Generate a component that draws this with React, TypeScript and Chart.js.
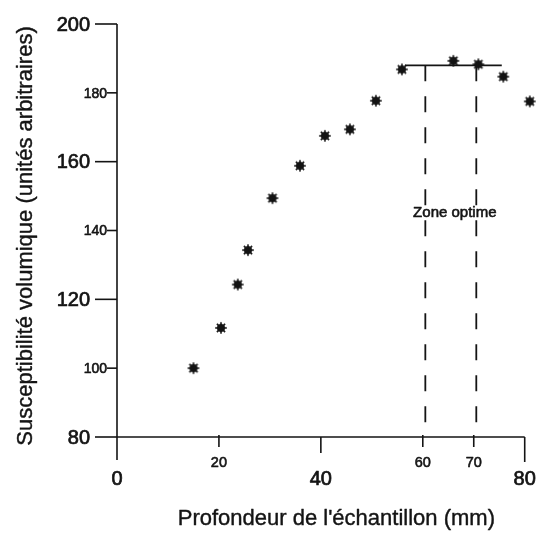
import { useEffect, useRef } from "react";
import { Chart, registerables } from "chart.js";

Chart.register(...registerables);

// ---- data ----
const depthMm = [15, 20.4, 23.7, 25.7, 30.5, 35.9, 40.8, 45.7, 50.8, 55.9, 66.0, 70.9, 75.8, 81.0];
const susceptibility = [100, 111.7, 124.3, 134.3, 149.4, 158.8, 167.5, 169.4, 177.7, 186.8, 189.3, 188.3, 184.7, 177.5];

const xTickValues = [0, 20, 40, 60, 70, 80];
const xMajorTicks = [0, 40, 80];
const yTickValues = [80, 100, 120, 140, 160, 180, 200];
const yMajorTicks = [80, 120, 160, 200];

const zoneBounds = [60.5, 70.5];
const plateauX = [56.5, 75.5];
const plateauY = 188;
const zoneLabelY = 144;

const zoneLabel = "Zone optime";
const xTitle = "Profondeur de l'échantillon (mm)";
const yTitle = "Susceptibilité volumique (unités arbitraires)";

const INK = "#141414";
const FONT = "'Liberation Sans', Arial, Helvetica, sans-serif";

function makeAsterisk(): HTMLCanvasElement {
  const c = document.createElement("canvas");
  c.width = 14;
  c.height = 14;
  const g = c.getContext("2d")!;
  g.translate(7, 7);
  g.fillStyle = INK;
  g.strokeStyle = INK;
  g.beginPath();
  g.arc(0, 0, 4, 0, Math.PI * 2);
  g.fill();
  g.lineWidth = 1.6;
  for (let i = 0; i < 8; i++) {
    const a = (i * Math.PI) / 4;
    g.beginPath();
    g.moveTo(0, 0);
    g.lineTo(Math.cos(a) * 5.8, Math.sin(a) * 5.8);
    g.stroke();
  }
  return c;
}

function inkText(ctx: CanvasRenderingContext2D, text: string, x: number, y: number, weight: number) {
  ctx.lineWidth = weight;
  ctx.strokeText(text, x, y);
  ctx.fillText(text, x, y);
}

const axesPlugin = {
  id: "sketchAxes",
  beforeDatasetsDraw(chart: any) {
    const { ctx } = chart;
    const x = chart.scales.x;
    const y = chart.scales.y;
    const x0 = x.getPixelForValue(0);
    const x80 = x.getPixelForValue(80);
    const yBottom = y.getPixelForValue(80);
    const yTop = y.getPixelForValue(200);
    ctx.save();
    ctx.strokeStyle = INK;
    ctx.fillStyle = INK;
    ctx.lineJoin = "round";
    ctx.lineWidth = 1.6;
    ctx.beginPath();
    ctx.moveTo(x0, yTop);
    ctx.lineTo(x0, yBottom + 23);
    ctx.moveTo(x0, yBottom);
    ctx.lineTo(x80, yBottom);
    ctx.stroke();

    // y ticks + labels
    ctx.textAlign = "right";
    ctx.textBaseline = "middle";
    for (const v of yTickValues) {
      const py = y.getPixelForValue(v);
      const major = yMajorTicks.includes(v);
      const len = major ? 22 : 10;
      ctx.lineWidth = 1.6;
      ctx.beginPath();
      ctx.moveTo(x0 - len, py);
      ctx.lineTo(x0, py);
      ctx.stroke();
      ctx.font = major ? `20px ${FONT}` : `14px ${FONT}`;
      inkText(ctx, String(v), x0 - (major ? 27 : 10), py + 1, major ? 0.7 : 0.6);
    }

    // x ticks + labels
    ctx.textAlign = "center";
    for (const v of xTickValues) {
      const px = x.getPixelForValue(v);
      const major = xMajorTicks.includes(v);
      const len = v === 0 ? 0 : major ? (v === 80 ? 25 : 16) : 10;
      if (len > 0) {
        ctx.lineWidth = 1.6;
        ctx.beginPath();
        ctx.moveTo(px, yBottom - (major ? 0 : 2));
        ctx.lineTo(px, yBottom + len);
        ctx.stroke();
      }
      ctx.font = major ? `20px ${FONT}` : `14.5px ${FONT}`;
      inkText(ctx, String(v), px, yBottom + (major ? 42 : 26), major ? 0.7 : 0.6);
    }

    // axis titles
    ctx.font = `22px ${FONT}`;
    ctx.textBaseline = "alphabetic";
    inkText(ctx, xTitle, (x0 + x80) / 2 + 15.5, yBottom + 88, 0.4);
    ctx.save();
    ctx.translate(32, (yTop + yBottom) / 2 + 5.5);
    ctx.rotate(-Math.PI / 2);
    inkText(ctx, yTitle, 0, 0, 0.4);
    ctx.restore();

    // zone label
    const zx = (x.getPixelForValue(zoneBounds[0]) + x.getPixelForValue(zoneBounds[1])) / 2 + 4;
    const zy = y.getPixelForValue(zoneLabelY);
    ctx.font = `15px ${FONT}`;
    inkText(ctx, zoneLabel, zx, zy, 0.6);
    ctx.restore();
  },
};

export default function App() {
  const ref = useRef<HTMLCanvasElement>(null);
  useEffect(() => {
    if (!ref.current) return;
    const marker = makeAsterisk();
    const points = depthMm.map((d, i) => ({ x: d, y: susceptibility[i] }));
    const lineStyle = {
      showLine: true,
      pointRadius: 0,
      borderColor: INK,
      borderWidth: 1.8,
      clip: false as any,
    };
    const chart = new Chart(ref.current, {
      type: "scatter",
      data: {
        datasets: [
          {
            label: "Susceptibilité",
            data: points,
            pointStyle: marker as any,
            pointRadius: 5,
            clip: false as any,
          },
          {
            ...lineStyle,
            label: "plateau",
            data: [
              { x: plateauX[0], y: plateauY },
              { x: plateauX[1], y: plateauY },
            ],
          },
          {
            ...lineStyle,
            label: "zone-start",
            borderDash: [16, 15],
            data: [
              { x: zoneBounds[0], y: plateauY },
              { x: zoneBounds[0], y: 80 },
            ],
          },
          {
            ...lineStyle,
            label: "zone-end",
            borderDash: [16, 15],
            data: [
              { x: zoneBounds[1], y: plateauY },
              { x: zoneBounds[1], y: 80 },
            ],
          },
        ],
      },
      options: {
        animation: false,
        responsive: false,
        devicePixelRatio: 1,
        layout: { padding: { left: 117, right: 1.5, top: 24, bottom: 100 } },
        plugins: { legend: { display: false }, tooltip: { enabled: false } },
        scales: {
          x: { type: "linear", min: 0, max: 83, display: false },
          y: { type: "linear", min: 80, max: 200, display: false },
        },
      },
      plugins: [axesPlugin],
    });
    return () => chart.destroy();
  }, []);
  return (
    <div style={{ position: "absolute", left: 0, top: 0, width: 546, height: 537, background: "#fff" }}>
      <canvas ref={ref} width={546} height={537} style={{ display: "block" }} />
    </div>
  );
}
